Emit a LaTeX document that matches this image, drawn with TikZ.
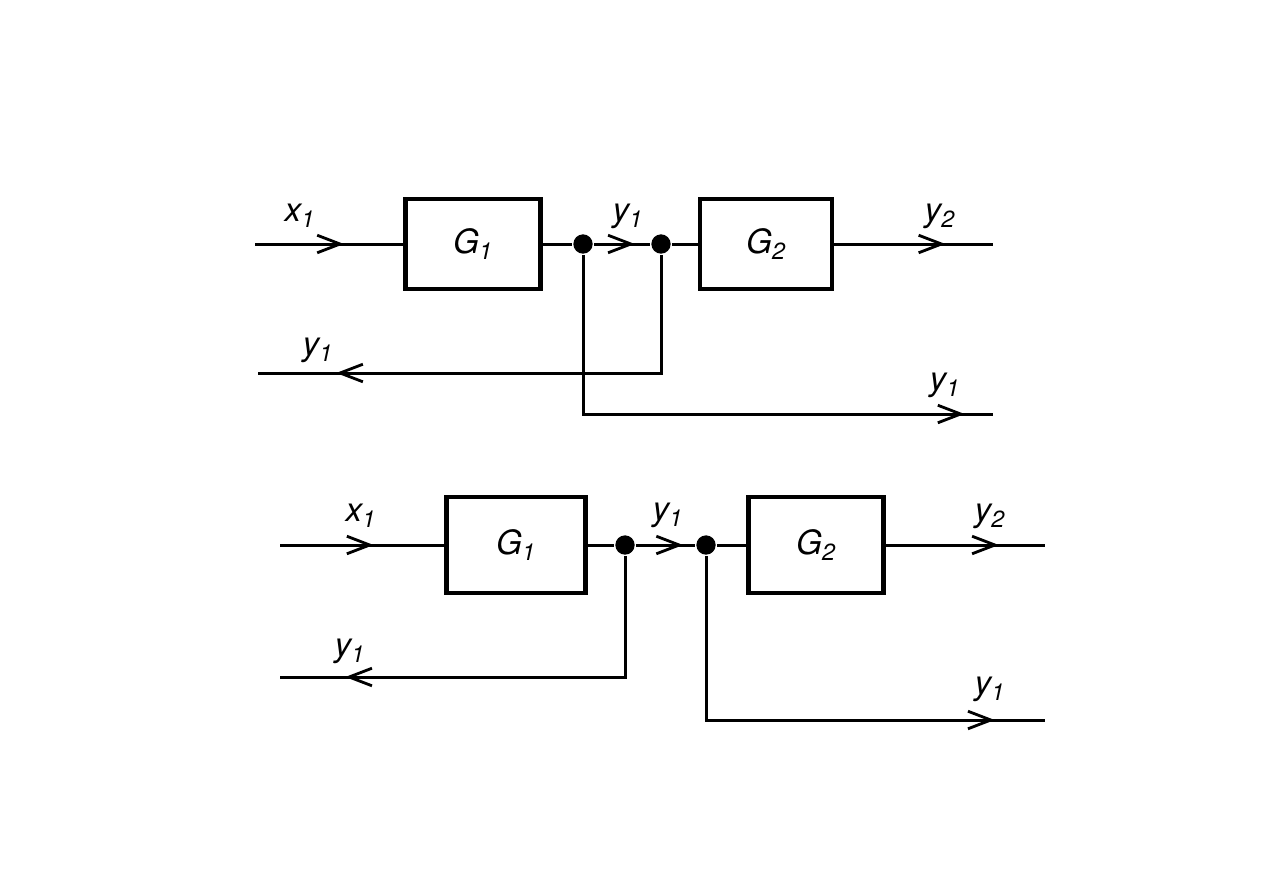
\documentclass[tikz,border=0pt]{standalone}
\usepackage{fontspec}
\setmainfont{TeX Gyre Heros}
\usetikzlibrary{arrows.meta,decorations.markings}

\tikzset{
  blk/.style={draw,line width=2.6pt,minimum width=2.7cm,minimum height=1.8cm,font=\fontsize{19}{22}\selectfont\itshape},
  lbl/.style={font=\fontsize{19}{22}\selectfont\itshape},
  flow/.style={postaction={decorate},decoration={markings,
    mark=at position #1 with {\arrow{Straight Barb[length=13pt,width=10pt,line width=1.6pt]}}}},
  dot/.style={circle,fill,inner sep=0pt,minimum size=11pt}
}
\newcommand{\sig}[2]{#1\textsubscript{#2}}

\begin{document}
\begin{tikzpicture}[x=0.02cm,y=-0.02cm,line width=1.7pt]
  \useasboundingbox (0,0) rectangle (1263,893);
  % upper scheme
  \coordinate (in1) at (255,244);
  \coordinate (out1) at (993,244);
  \coordinate (fb1) at (258,373);
  \coordinate (br1) at (993,414);
  \node[blk] (ga) at (473,244) {\sig{G}{1}};
  \node[blk,minimum width=2.64cm] (gb) at (766,244) {\sig{G}{2}};
  \node[dot] (da) at (583,244) {};
  \node[dot] (db) at (661,244) {};
  \draw[flow=0.6] (in1) -- (ga.west);
  \draw (ga.east) -- (da);
  \draw[flow=0.73] (da) -- (db);
  \draw (db) -- (gb.west);
  \draw[flow=0.7] (gb.east) -- (out1);
  \draw[flow=0.85] (db) |- (fb1);
  \draw[flow=0.95] (da) |- (br1);
  \node[lbl] (lx1) at (300,216) {\sig{x}{1}};
  \node[lbl] (ly1) at (628,216) {\sig{y}{1}};
  \node[lbl] (ly2) at (940,216) {\sig{y}{2}};
  \node[lbl] (lf1) at (318,350) {\sig{y}{1}};
  \node[lbl] (lb1) at (945,385) {\sig{y}{1}};
  % lower scheme
  \coordinate (in2) at (280,545);
  \coordinate (out2) at (1045,545);
  \coordinate (fb2) at (280,677);
  \coordinate (br2) at (1045,720);
  \node[blk,minimum width=2.78cm,minimum height=1.92cm] (gc) at (516,545) {\sig{G}{1}};
  \node[blk,minimum height=1.92cm] (gd) at (816,545) {\sig{G}{2}};
  \node[dot] (dc) at (625,545) {};
  \node[dot] (dd) at (706,545) {};
  \draw[flow=0.57] (in2) -- (gc.west);
  \draw (gc.east) -- (dc);
  \draw[flow=0.8] (dc) -- (dd);
  \draw (dd) -- (gd.west);
  \draw[flow=0.71] (gd.east) -- (out2);
  \draw[flow=0.86] (dc) |- (fb2);
  \draw[flow=0.9] (dd) |- (br2);
  \node[lbl] (lx2) at (361,516) {\sig{x}{1}};
  \node[lbl] (ly3) at (668,515) {\sig{y}{1}};
  \node[lbl] (ly4) at (990,516) {\sig{y}{2}};
  \node[lbl] (lf2) at (350,651) {\sig{y}{1}};
  \node[lbl] (lb2) at (990,689) {\sig{y}{1}};
\end{tikzpicture}
\end{document}
